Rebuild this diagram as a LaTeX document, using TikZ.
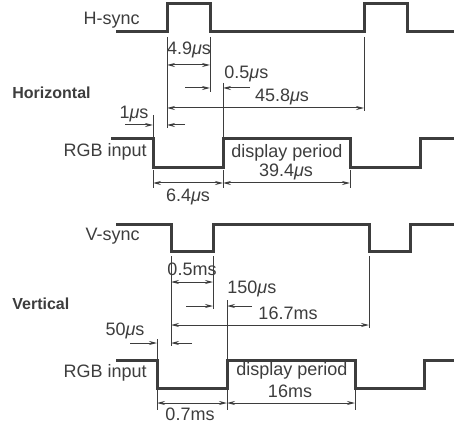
\documentclass[tikz,border=0pt]{standalone}
\usepackage{fontspec}
\setmainfont{Liberation Sans}
\usetikzlibrary{arrows.meta}
\definecolor{ink}{rgb}{0.24,0.24,0.24}
\newcommand{\micros}{{\itshape μ}s}
\begin{document}
\begin{tikzpicture}[x=0.5pt, y=-0.5pt, ink,
    wave/.style={line width=1.5pt, line join=miter},
    ext/.style={line width=0.4pt},
    dim/.style={line width=0.5pt, {Stealth[length=4pt,width=2pt]}-{Stealth[length=4pt,width=2pt]}},
    pin/.style={line width=0.5pt, -{Stealth[length=4pt,width=2pt]}},
    txt/.style={font=\fontsize{9}{10}\selectfont, inner sep=0pt},
    head/.style={font=\fontsize{8}{9}\selectfont\bfseries, inner sep=0pt, anchor=west}]
    \useasboundingbox (0,0) rectangle (454,422);
    \foreach \name/\x/\y in {hA/167/65,hB/210/65,hC/185/88,hD/210/88,hE/250/88,hF/223/88,
                             hG/167/108,hH/364/108,hI/125/125,hJ/153/125,hK/185/125,hL/167/125,
                             hM/153/183,hN/223/183,hO/350/183,
                             vA/171/282,vB/213/282,vC/186/306,vD/213/306,vE/252/306,vF/227/306,
                             vG/171/325,vH/369/325,vI/130/343,vJ/157/343,vK/192/343,vL/171/343,
                             vM/157/403,vN/227/403,vO/355/403}
        \coordinate (\name) at (\x,\y);
    \draw[wave] (116,32) -- (167,32) -- (167,4) -- (210,4) -- (210,32) -- (364,32)
        -- (364,4) -- (407,4) -- (407,32) -- (454,32);
    \draw[wave] (111,139) -- (153,139) -- (153,168) -- (223,168) -- (223,139) -- (350,139)
        -- (350,168) -- (420,168) -- (420,139) -- (454,139);
    \draw[wave] (116,224) -- (171,224) -- (171,251) -- (213,251) -- (213,224) -- (369,224)
        -- (369,251) -- (410,251) -- (410,224) -- (454,224);
    \draw[wave] (116,360) -- (157,360) -- (157,388) -- (227,388) -- (227,360) -- (355,360)
        -- (355,388) -- (424,388) -- (424,360) -- (454,360);
    \foreach \x/\ya/\yb in {167/37/128,210/37/92,223/83/139,223/170/188,364/37/111,
                            153/115/139,153/170/188,350/170/188,
                            171/256/346,213/256/309,227/300/360,227/390/410,369/256/328,
                            157/339/360,157/390/410,355/390/410}
        \draw[ext] (\x,\ya) -- (\x,\yb);
    \draw[dim] (hA) -- (hB);
    \draw[pin] (hC) -- (hD);
    \draw[pin] (hE) -- (hF);
    \draw[dim] (hG) -- (hH);
    \draw[pin] (hI) -- (hJ);
    \draw[pin] (hK) -- (hL);
    \draw[dim] (hM) -- (hN);
    \draw[dim] (hN) -- (hO);
    \draw[dim] (vA) -- (vB);
    \draw[pin] (vC) -- (vD);
    \draw[pin] (vE) -- (vF);
    \draw[dim] (vG) -- (vH);
    \draw[pin] (vI) -- (vJ);
    \draw[pin] (vK) -- (vL);
    \draw[dim] (vM) -- (vN);
    \draw[dim] (vN) -- (vO);
    \node[head] (horiz) at (12,93) {Horizontal};
    \node[head] (vert) at (12,304) {Vertical};
    \node[txt, anchor=east] (hsync) at (140,20) {H-sync};
    \node[txt, anchor=east] (hrgb) at (147,152) {RGB input};
    \node[txt, anchor=east] (vsync) at (140,236) {V-sync};
    \node[txt, anchor=east] (vrgb) at (147,373) {RGB input};
    \node[txt] (h49) at (189,50) {4.9\micros};
    \node[txt, anchor=west] (h05) at (224,74) {0.5\micros};
    \node[txt] (h458) at (282,97) {45.8\micros};
    \node[txt] (h1) at (134,114) {1\micros};
    \node[txt] (h64) at (188,197) {6.4\micros};
    \node[txt] (hdisp) at (287,153) {display period};
    \node[txt] (h394) at (286,172) {39.4\micros};
    \node[txt] (v05) at (192,269) {0.5ms};
    \node[txt, anchor=west] (v150) at (227,289) {150\micros};
    \node[txt] (v167) at (288,313) {16.7ms};
    \node[txt] (v50) at (125,331) {50\micros};
    \node[txt] (v07) at (190,414) {0.7ms};
    \node[txt] (vdisp) at (292,371) {display period};
    \node[txt] (v16) at (290,391) {16ms};
\end{tikzpicture}
\end{document}
